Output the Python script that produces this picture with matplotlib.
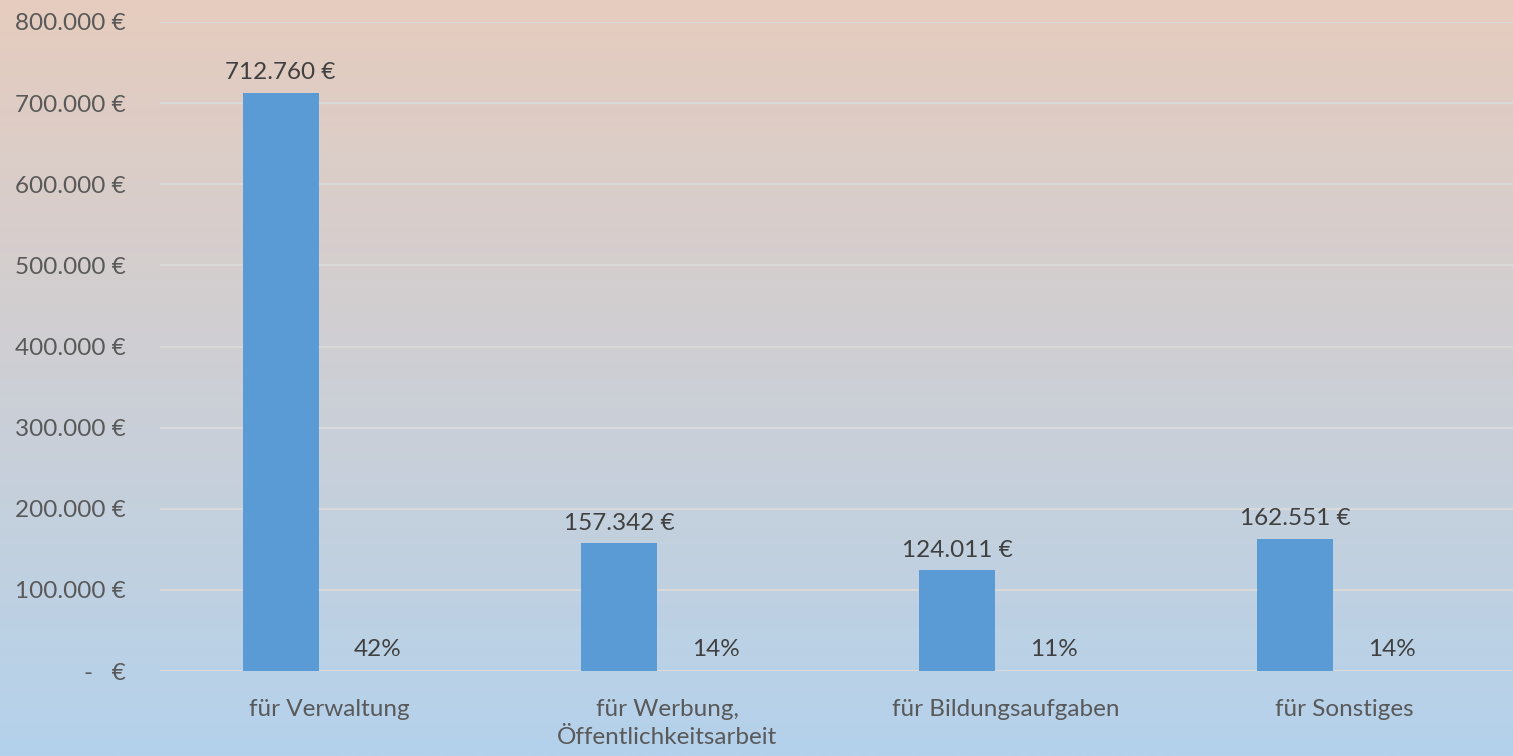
import numpy as np
import matplotlib
matplotlib.use("Agg")
from matplotlib import pyplot as plt
from matplotlib.colors import LinearSegmentedColormap

categories = ["für Verwaltung", "für Werbung,\nÖffentlichkeitsarbeit", "für Bildungsaufgaben", "für Sonstiges"]
betrag = [712760, 157342, 124011, 162551]
anteil = [0.42, 0.14, 0.11, 0.14]
yticks = [0, 100000, 200000, 300000, 400000, 500000, 600000, 700000, 800000]

plt.rcParams['font.family'] = ['Lato', 'DejaVu Sans']
fs = 17.5

def euro(v):
    if v == 0:
        return "-   €"
    return f"{v:,.0f} €".replace(",", ".")

fig = plt.figure(figsize=(15.13, 7.56), dpi=100)

# background gradient over the whole figure
bg = fig.add_axes([0, 0, 1, 1], zorder=0)
grad = np.linspace(0, 1, 256).reshape(-1, 1)
cmap = LinearSegmentedColormap.from_list("bg", ["#E6CCBE", "#B4D2EC"])
bg.imshow(grad, aspect="auto", cmap=cmap, extent=[0, 1, 0, 1], origin="upper")
bg.axis("off")

ax = fig.add_axes([160 / 1513, 85 / 756, 1353 / 1513, 649 / 756], zorder=1)
ax.patch.set_alpha(0)

x = np.arange(len(categories))
w = 0.225
off = 0.1435
bars = ax.bar(x - off, betrag, w, color="#5B9BD5", zorder=3)
for xi, v in zip(x, betrag):
    ax.text(xi - off, v + 12000, euro(v), ha="center", va="bottom", fontsize=fs, color="#404040")
for xi, p in zip(x, anteil):
    ax.text(xi + off, 14000, f"{p:.0%}", ha="center", va="bottom", fontsize=fs, color="#404040")

ax.set_xlim(-0.5, len(categories) - 0.5)
ax.set_ylim(0, 800000)
ax.set_yticks(yticks)
ax.set_yticklabels([euro(v) for v in yticks], fontsize=fs, color="#595959")
ax.set_xticks(x)
ax.set_xticklabels(categories, fontsize=fs, color="#595959", linespacing=1.45)
ax.tick_params(axis="both", length=0)
ax.tick_params(axis="y", pad=24.5)
ax.tick_params(axis="x", pad=20)
ax.grid(axis="y", color="#D9D9D9", linewidth=1.5, zorder=0)
for s in ax.spines.values():
    s.set_visible(False)

fig.savefig("out.png", dpi=100)
